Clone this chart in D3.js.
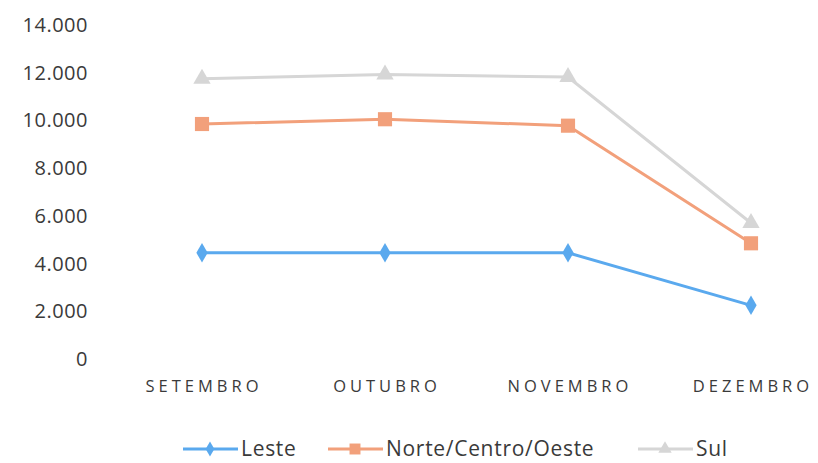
<!DOCTYPE html>
<html>
<head>
<meta charset="utf-8">
<script src="https://cdn.jsdelivr.net/npm/d3@7"></script>
<style>
  body { margin: 0; background: #fff; }
  svg text { font-family: "Open Sans", "Noto Sans", sans-serif; fill: #3a3a3a; }
</style>
</head>
<body>
<svg id="chart" width="818" height="463"></svg>
<script>
var months = ['SETEMBRO', 'OUTUBRO', 'NOVEMBRO', 'DEZEMBRO'];
var leste = [4450, 4450, 4450, 2250];
var norte = [9850, 10050, 9780, 4850];
var sul = [11750, 11930, 11820, 5700];
var yTicks = [0, 2000, 4000, 6000, 8000, 10000, 12000, 14000];

var series = [
  { name: 'Leste', values: leste, color: '#5aa9ee', symbol: d3.symbolDiamond, size: 110 },
  { name: 'Norte/Centro/Oeste', values: norte, color: '#f2a07b', symbol: d3.symbolSquare, size: 200 },
  { name: 'Sul', values: sul, color: '#d6d6d6', symbol: d3.symbolTriangle, size: 130 }
];

var svg = d3.select('#chart');

// plot area
var x = d3.scalePoint().domain(months).range([202, 751]);
var y = d3.scaleLinear().domain([0, 14000]).range([359, 25]);

var fmt = (d) => d3.format(',')(d).replace(/,/g, '.');

// y tick labels only, no gridlines
svg.append('g')
  .selectAll('text')
  .data(yTicks)
  .enter().append('text')
  .attr('x', 88)
  .attr('y', (d) => y(d))
  .attr('dy', '0.35em')
  .attr('text-anchor', 'end')
  .style('font-size', '20px')
  .style('letter-spacing', '0.5px')
  .text(fmt);

// month labels with wide tracking
svg.append('g')
  .selectAll('text')
  .data(months)
  .enter().append('text')
  .attr('x', (d) => x(d) + 2)
  .attr('y', 392)
  .attr('text-anchor', 'middle')
  .style('font-size', '16.5px')
  .style('letter-spacing', '4px')
  .text((d) => d);

var line = d3.line()
  .x((d, i) => x(months[i]))
  .y((d) => y(d));

// draw back to front: Sul, Norte, Leste
series.slice().reverse().forEach(function(s) {
  var g = svg.append('g');
  g.append('path')
    .datum(s.values)
    .attr('d', line)
    .attr('fill', 'none')
    .attr('stroke', s.color)
    .attr('stroke-width', 3);
  g.selectAll('path.marker')
    .data(s.values)
    .enter().append('path')
    .attr('class', 'marker')
    .attr('d', d3.symbol().type(s.symbol).size(s.size))
    .attr('transform', (d, i) => 'translate(' + x(months[i]) + ',' + y(d) + ')')
    .attr('fill', s.color);
});

// legend
var legendX = [183, 328, 638];
var legend = svg.append('g');
series.forEach(function(s, i) {
  var lg = legend.append('g').attr('transform', 'translate(' + legendX[i] + ',449)');
  lg.append('line')
    .attr('x1', 0).attr('x2', 55)
    .attr('stroke', s.color)
    .attr('stroke-width', 3);
  lg.append('path')
    .attr('d', d3.symbol().type(s.symbol).size(s.size * 0.6))
    .attr('transform', 'translate(27,0)')
    .attr('fill', s.color);
  lg.append('text')
    .attr('x', 58)
    .attr('dy', '0.33em')
    .style('font-size', '21px')
    .style('letter-spacing', '0.7px')
    .text(s.name);
});
</script>
</body>
</html>
